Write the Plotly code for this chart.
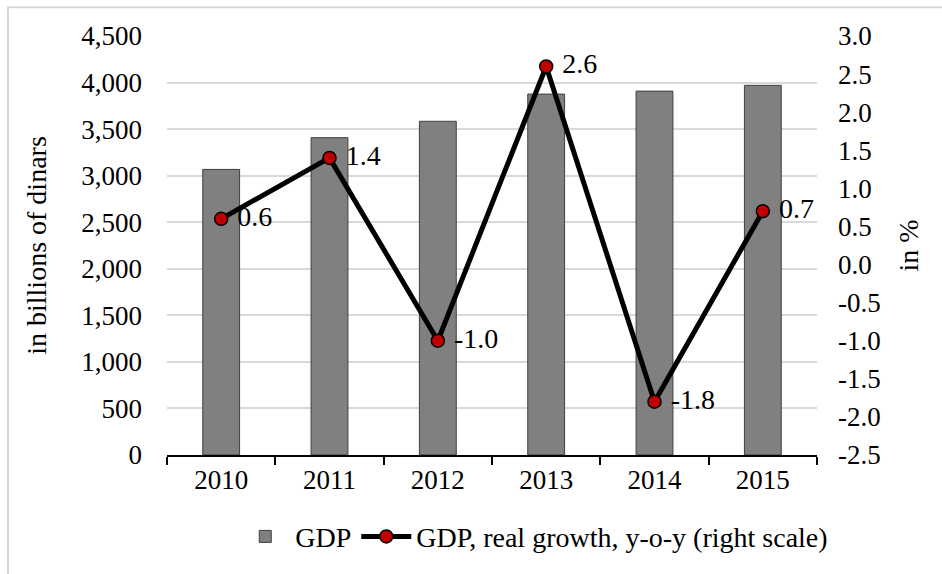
import plotly.graph_objects as go

# GDP (billions of dinars) and real y-o-y growth (%)
years = ["2010", "2011", "2012", "2013", "2014", "2015"]
gdp = [3067, 3408, 3584, 3876, 3908, 3970]
growth = [0.6, 1.4, -1.0, 2.6, -1.8, 0.7]
growth_labels = ["0.6", "1.4", "-1.0", "2.6", "-1.8", "0.7"]

# right-axis ticks written with a plain hyphen for negatives
pct_ticks = [-2.5, -2.0, -1.5, -1.0, -0.5, 0.0, 0.5, 1.0, 1.5, 2.0, 2.5, 3.0]
pct_tick_text = ["-2.5", "-2.0", "-1.5", "-1.0", "-0.5", "0.0",
                 "0.5", "1.0", "1.5", "2.0", "2.5", "3.0"]

FONT = "Liberation Serif"
FS = 27     # tick labels
FS_T = 28   # titles, legend, data labels

fig = go.Figure()

fig.add_trace(go.Bar(
    x=years, y=gdp, name="GDP",
    marker=dict(color="#808080", line=dict(color="#3f3f3f", width=1)),
    width=0.34,
))

fig.add_trace(go.Scatter(
    x=years, y=growth, name="GDP, real growth, y-o-y (right scale)",
    yaxis="y2", mode="lines+markers+text",
    line=dict(color="black", width=5),
    marker=dict(color="#C00000", size=13, line=dict(color="black", width=1.5)),
    text=[" " + t for t in growth_labels], textposition="middle right",
    textfont=dict(family=FONT, size=FS_T, color="black"),
))

fig.update_layout(
    width=942, height=574,
    margin=dict(l=167, r=125, t=36, b=115),
    paper_bgcolor="white", plot_bgcolor="white",
    font=dict(family=FONT, size=FS, color="black"),
    showlegend=True,
    legend=dict(orientation="h", x=0.565, xanchor="center", y=-0.195, yanchor="middle",
                font=dict(family=FONT, size=FS_T), itemwidth=50,
                traceorder="normal", tracegroupgap=0),
    xaxis=dict(
        type="category", showline=True, linecolor="black", linewidth=1.5,
        ticks="outside", tickson="boundaries", ticklen=8, tickcolor="black",
        tickwidth=1.5, showgrid=False, tickfont=dict(size=FS),
    ),
    yaxis=dict(
        range=[0, 4500], dtick=500, tickformat=",d",
        showgrid=True, gridcolor="#d9d9d9", gridwidth=1.5,
        zeroline=False, showline=False, ticks="", ticklabelstandoff=24,
        title=dict(text="in billions of dinars", font=dict(size=FS_T), standoff=26),
        tickfont=dict(size=FS),
    ),
    yaxis2=dict(
        range=[-2.5, 3.0], tickvals=pct_ticks, ticktext=pct_tick_text,
        overlaying="y", side="right", showgrid=False, zeroline=False,
        showline=False, ticks="", ticklabelstandoff=20,
        title=dict(text="in %", font=dict(size=FS_T), standoff=18),
        tickfont=dict(size=FS),
    ),
)

# outer chart frame
fig.add_shape(type="rect", xref="paper", yref="paper",
              x0=-0.2446, x1=1.3, y0=-0.4, y1=1.0686,
              line=dict(color="#d9d9d9", width=2), fillcolor="rgba(0,0,0,0)",
              layer="below")

fig.write_html("out.html")
